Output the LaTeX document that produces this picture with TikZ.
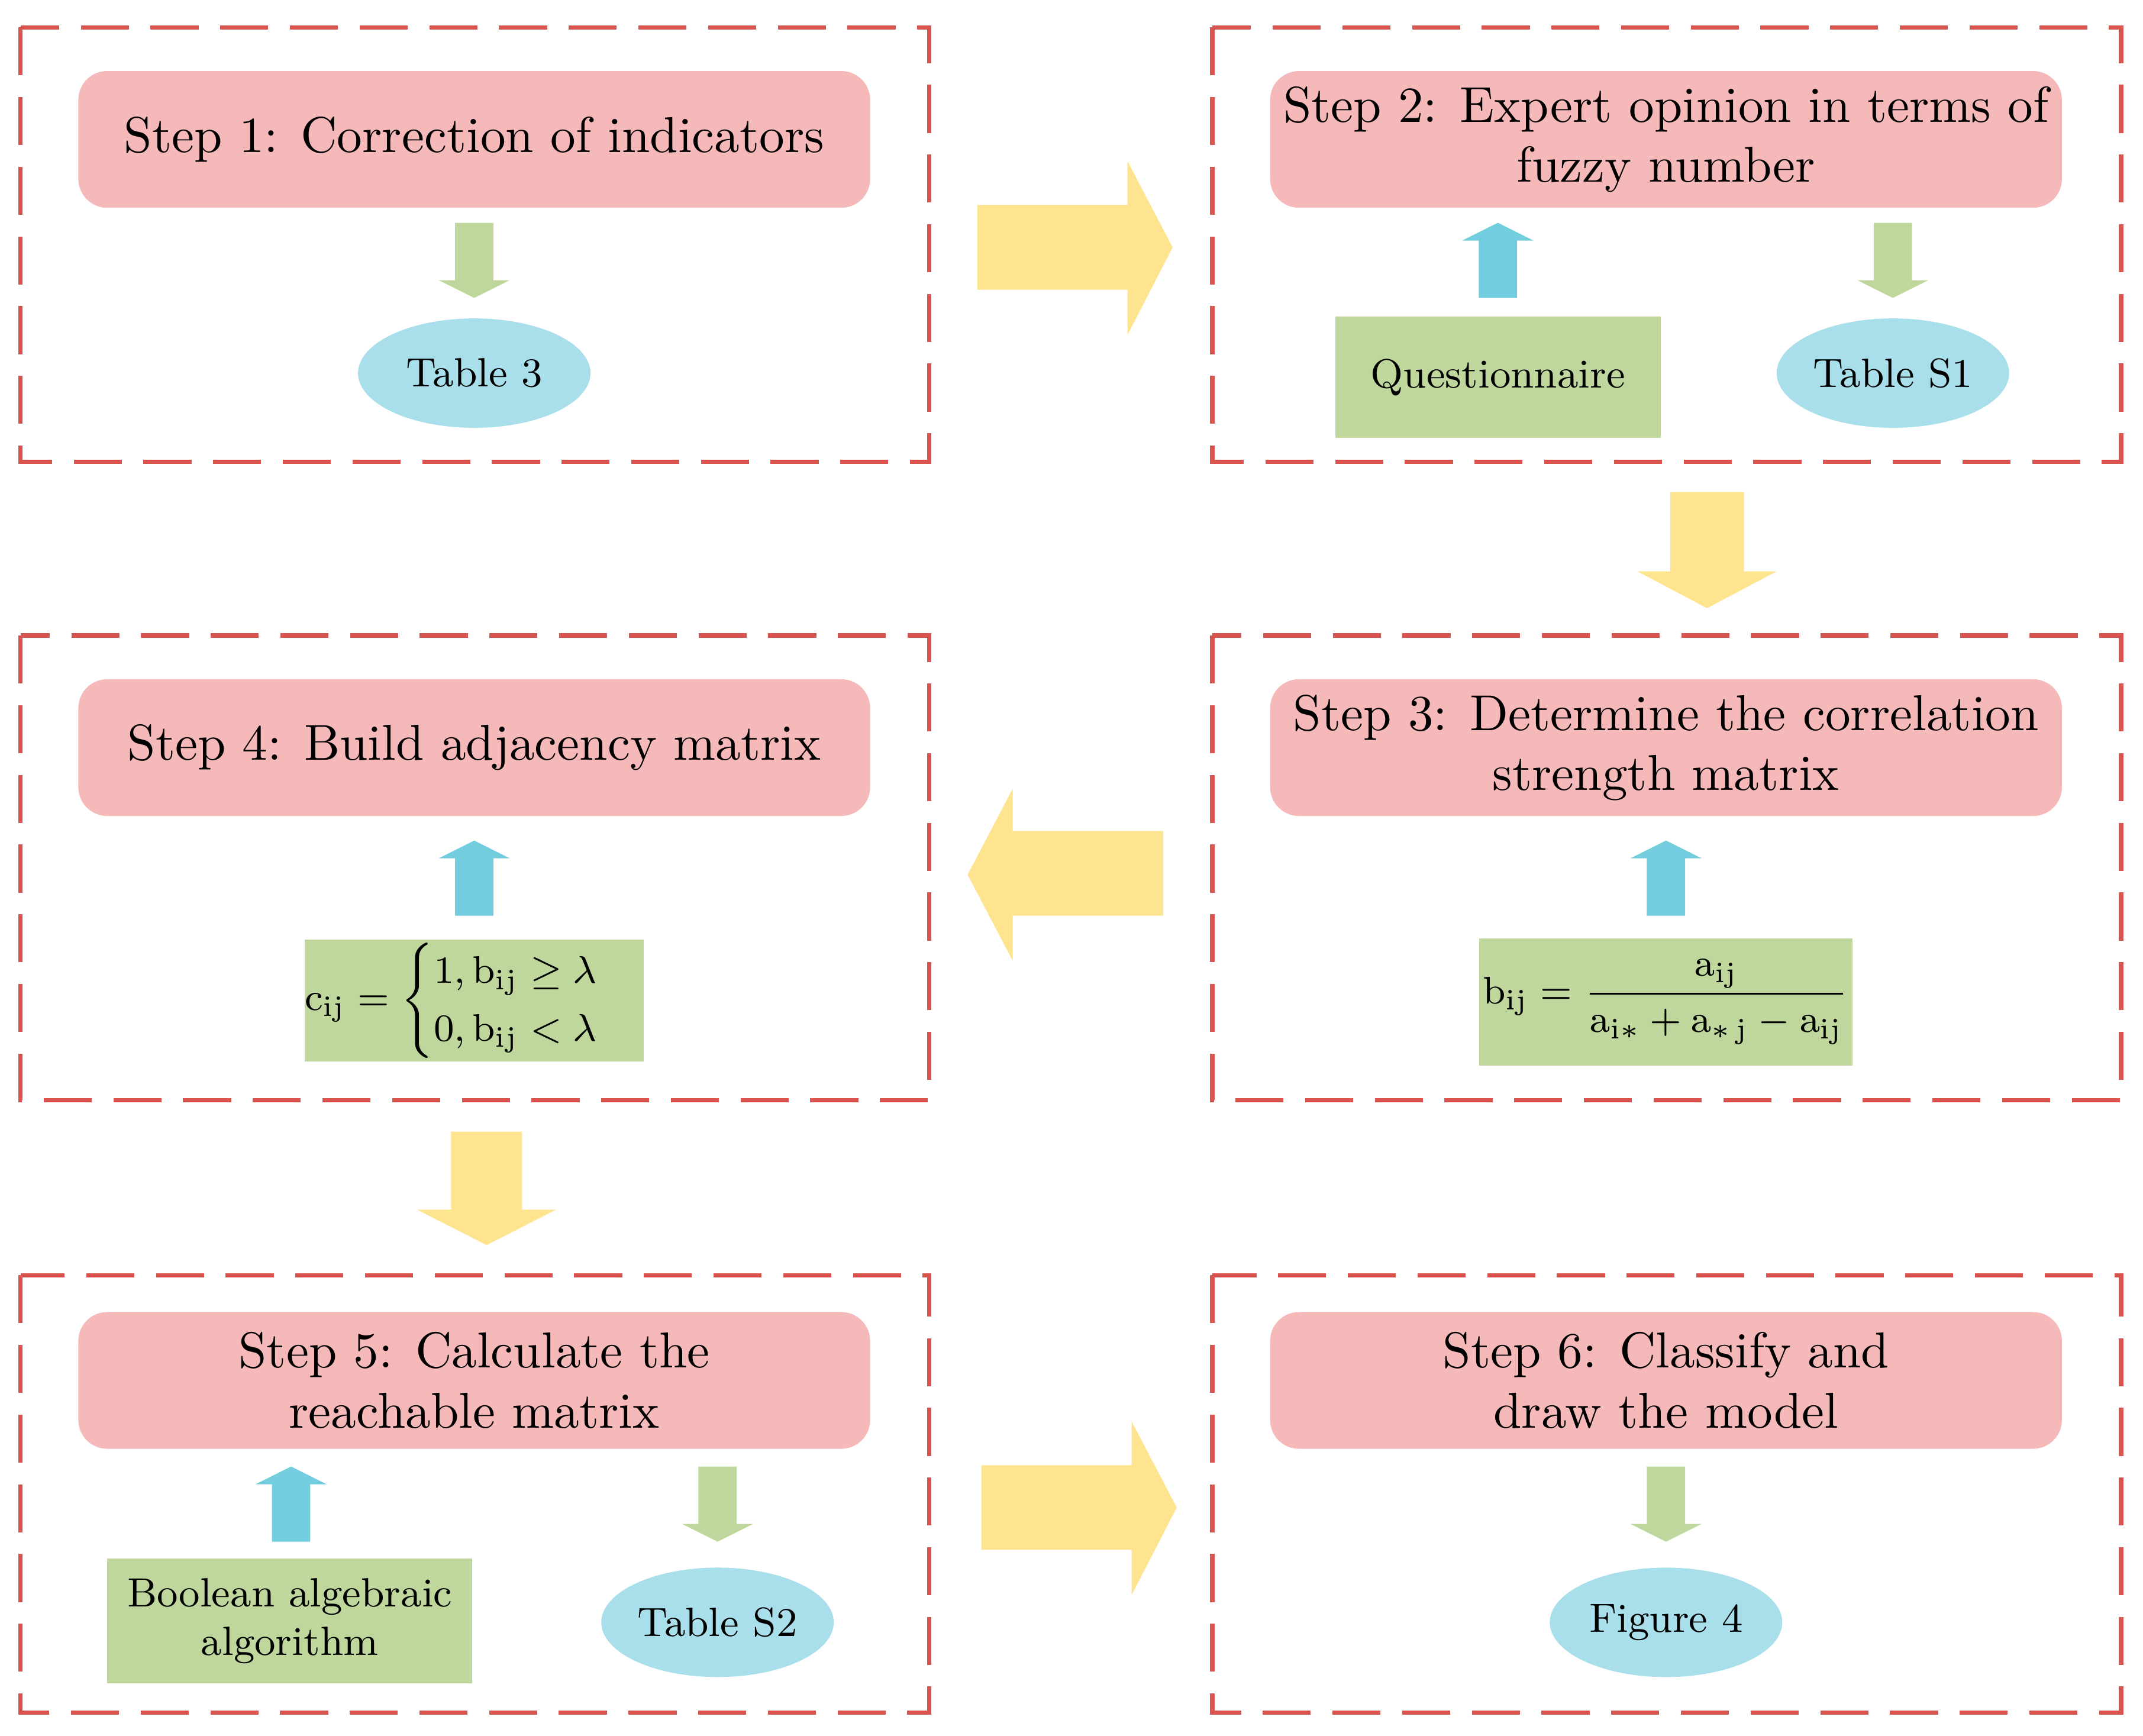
\documentclass[tikz,border=0pt]{standalone}
\usepackage{amsmath}
\usetikzlibrary{shapes.geometric}
\definecolor{pinkc}{HTML}{F4B9B8}
\definecolor{greenc}{HTML}{BFD79D}
\definecolor{bluec}{HTML}{A8DFEA}
\definecolor{bluea}{HTML}{72CEDE}
\definecolor{yellowc}{HTML}{FFE490}
\definecolor{redd}{HTML}{D9534F}
\begin{document}
\begin{tikzpicture}[x=0.01cm,y=-0.01cm,
  frame/.style={draw=redd,line width=0.9pt,dash pattern=on 10pt off 4.5pt},
  stepbox/.style={fill=pinkc,rounded corners=6pt,minimum width=5.79cm,minimum height=1cm,align=center,font=\fontsize{10.5}{12.5}\selectfont,inner sep=0pt},
  ell/.style={ellipse,fill=bluec,minimum width=1.7cm,minimum height=0.8cm,font=\fontsize{8.5}{10}\selectfont,inner sep=0pt},
  gbox/.style={fill=greenc,align=center,font=\fontsize{8.5}{10}\selectfont,inner sep=0pt},
  sdown/.pic={\fill[#1] (-14,0)--(14,0)--(14,42)--(26,42)--(0,55)--(-26,42)--(-14,42)--cycle;},
  sup/.pic={\fill[#1] (-14,55)--(14,55)--(14,13)--(26,13)--(0,0)--(-26,13)--(-14,13)--cycle;}
]
\useasboundingbox (0,0) rectangle (1568,1270);
% frames
\draw[frame] (15,20) rectangle (680,338);
\draw[frame] (887,20) rectangle (1552,338);
\draw[frame] (15,465) rectangle (680,805);
\draw[frame] (887,465) rectangle (1552,805);
\draw[frame] (15,933) rectangle (680,1253);
\draw[frame] (887,933) rectangle (1552,1253);
% big arrows
\fill[yellowc] (715,150)--(825,150)--(825,118)--(858,181)--(825,245)--(825,212)--(715,212)--cycle;
\fill[yellowc] (1222,360)--(1276,360)--(1276,418)--(1300,418)--(1249,445)--(1198,418)--(1222,418)--cycle;
\fill[yellowc] (851,608)--(741,608)--(741,577)--(708,640)--(741,703)--(741,670)--(851,670)--cycle;
\fill[yellowc] (330,828)--(382,828)--(382,885)--(407,885)--(356,911)--(305,885)--(330,885)--cycle;
\fill[yellowc] (718,1072)--(828,1072)--(828,1040)--(861,1103)--(828,1167)--(828,1134)--(718,1134)--cycle;
% step 1
\node[stepbox] (s1) at (347,102) {Step 1: Correction of indicators};
\pic at (347,163) {sdown=greenc};
\node[ell] (t3) at (347,273) {Table 3};
% step 2
\node[stepbox] (s2) at (1219,102) {Step 2: Expert opinion in terms of\\fuzzy number};
\pic at (1096,163) {sup=bluea};
\node[gbox,minimum width=2.38cm,minimum height=0.89cm] (q) at (1096,276) {Questionnaire};
\pic at (1385,163) {sdown=greenc};
\node[ell] (ts1) at (1385,273) {Table S1};
% step 3
\node[stepbox] (s3) at (1219,547) {Step 3: Determine the correlation\\strength matrix};
\pic at (1219,615) {sup=bluea};
\node[gbox,minimum width=2.73cm,minimum height=0.93cm] (f3) at (1219,733) {$\mathrm{b_{ij}}=\dfrac{\mathrm{a_{ij}}}{\mathrm{a_{i*}}+\mathrm{a_{*\,j}}-\mathrm{a_{ij}}}$};
% step 4
\node[stepbox] (s4) at (347,547) {Step 4: Build adjacency matrix};
\pic at (347,615) {sup=bluea};
\node[gbox,minimum width=2.38cm,minimum height=0.89cm] (f4) at (347,732) {$\mathrm{c_{ij}}=\begin{cases}1,\mathrm{b_{ij}}\ge\lambda\\0,\mathrm{b_{ij}}<\lambda\end{cases}$};
% step 5
\node[stepbox] (s5) at (347,1010) {Step 5: Calculate the\\reachable matrix};
\pic at (213,1073) {sup=bluea};
\node[gbox,minimum width=2.67cm,minimum height=0.91cm] (ba) at (212,1186) {Boolean algebraic\\algorithm};
\pic at (525,1073) {sdown=greenc};
\node[ell] (ts2) at (525,1187) {Table S2};
% step 6
\node[stepbox] (s6) at (1219,1010) {Step 6: Classify and\\draw the model};
\pic at (1219,1073) {sdown=greenc};
\node[ell] (f4n) at (1219,1187) {Figure 4};
\end{tikzpicture}
\end{document}
